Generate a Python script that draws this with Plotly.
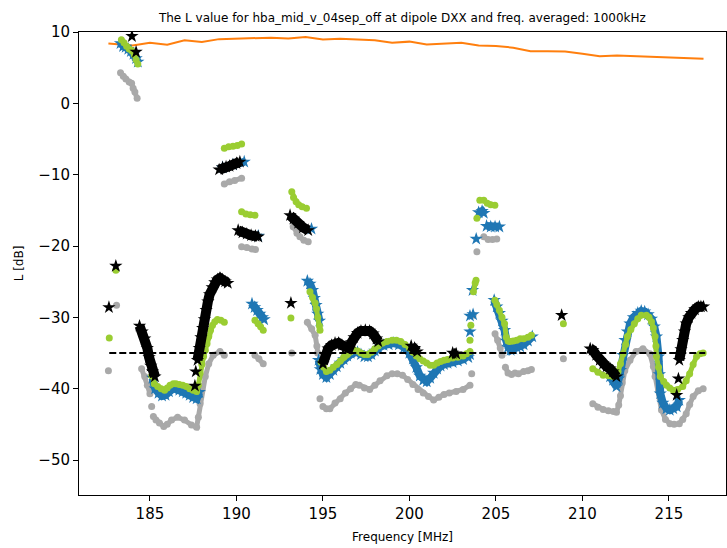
import plotly.graph_objects as go

N = None

# ---- data (frequency MHz, L dB); None separates runs of samples ----
ORANGE_F = [182.6, 184.0, 185.0, 186.0, 187.0, 188.0, 189.0, 190.0, 191.0, 191.5, 192.0, 193.0,
            194.0, 195.0, 196.0, 197.0, 198.0, 199.0, 200.0, 201.0, 202.0, 203.0, 204.0, 205.0,
            206.0, 207.0, 208.0, 209.0, 210.0, 211.0, 212.0, 213.0, 214.0, 215.0, 216.0, 217.0]
ORANGE_L = [8.4, 8.1, 8.5, 8.2, 8.85, 8.6, 9.0, 9.1, 9.15, 9.25, 9.2, 9.1,
            9.3, 8.95, 9.05, 8.95, 8.85, 8.5, 8.65, 8.25, 8.4, 8.5, 8.1, 8.05,
            7.8, 7.3, 7.3, 7.25, 6.95, 6.6, 6.7, 6.6, 6.5, 6.45, 6.35, 6.25]

GRAY_F = [182.6, N, 183.07, N,
          183.3, 183.46, 183.61, 183.8, 183.94, 184.03, 184.13, 184.26, N,
          184.52, 184.7, 184.85, 185.0, N, 185.1, N,
          185.2, 185.35, 185.55, 185.8, 186.0, 186.25, 186.6, 187.0, 187.4, 187.7, 187.8, 187.9,
          188.0, 188.2, 188.4, 188.66, 189.05, 189.3, N,
          189.3, 189.6, 189.9, 190.3, N,
          190.3, 190.6, 190.9, 191.1, N,
          191.07, 191.3, 191.55, N, 193.2, N,
          193.28, 193.5, 193.67, 193.9, 194.15, N,
          194.1, 194.35, 194.55, 194.65, 194.7, N, 194.83, N,
          195.0, 195.2, 195.4, 195.7, 196.0, 196.3, 196.6, 196.9, 197.1, 197.4, 197.7, 198.0,
          198.3, 198.7, 199.0, 199.3, 199.6, 199.9, 200.2, 200.5, 200.8, 201.1, 201.4, 201.7,
          202.0, 202.3, 202.7, 203.1, 203.5, N,
          203.6, N, 203.68, N, 203.9, N,
          204.3, 204.55, 204.8, 205.05, N,
          204.95, 205.1, 205.25, 205.35, N,
          205.55, 205.7, 205.9, 206.1, 206.3, 206.6, 206.85, 207.05, N,
          208.9, N,
          210.6, 210.9, 211.2, 211.5, 211.8, 211.97, 212.1, 212.2, 212.3, 212.45, 212.75, 213.1,
          213.5, 213.9, 214.1, 214.2, 214.4, 214.57, 214.8, 215.06, 215.3, 215.6, 215.8, 216.0,
          216.2, 216.4, 216.7, 216.98]
GRAY_L = [-37.5, N, -28.3, N,
          4.3, 3.8, 3.4, 3.0, 2.8, 2.1, 1.6, 0.7, N,
          -37.2, -38.3, -39.5, -40.7, N, -42.5, N,
          -43.9, -44.4, -44.8, -45.3, -45.0, -44.4, -44.0, -44.4, -45.1, -45.4, -44.0, -42.1,
          -40.2, -38.3, -36.5, -35.3, -34.8, -35.3, N,
          -11.3, -11.0, -10.8, -10.5, N,
          -20.1, -20.2, -20.4, -20.5, N,
          -35.3, -35.8, -36.5, N, -35.0, N,
          -17.3, -18.2, -18.7, -19.2, -19.4, N,
          -30.7, -31.6, -32.5, -34.0, -35.0, N, -41.4, N,
          -42.5, -42.8, -42.8, -42.0, -41.4, -40.6, -40.0, -39.4, -39.5, -39.9, -40.1, -39.5,
          -38.9, -38.2, -37.9, -37.9, -38.1, -38.7, -39.4, -40.1, -40.6, -41.1, -41.6, -41.2,
          -40.8, -40.6, -40.4, -40.1, -39.5, N,
          -37.9, N, -29.7, N, -20.8, N,
          -18.7, -19.1, -19.1, -19.0, N,
          -32.3, -33.2, -34.3, -35.3, N,
          -37.0, -37.8, -38.0, -37.8, -37.9, -37.6, -37.5, -37.3, N,
          -35.8, N,
          -42.1, -42.6, -42.9, -43.1, -43.2, -43.3, -42.3, -41.0, -39.2, -37.5, -36.0, -34.8,
          -34.4, -35.1, -36.9, -38.3, -40.2, -43.0, -44.3, -44.9, -45.0, -44.9, -44.3, -43.5,
          -42.2, -41.1, -40.3, -40.0]

BLUE_F = [183.3, 183.45, 183.6, 183.75, 183.9, 184.05, 184.2, 184.3, N,
          185.15, 185.3, 185.5, 185.7, 185.9, 186.1, 186.3, 186.5, 186.7, 186.9, 187.1, 187.3,
          187.5, 187.7, 187.85, N,
          189.2, 189.8, 190.45, N, 191.26, N,
          190.9, 191.05, 191.2, 191.35, 191.5, 191.6, N,
          194.34, N,
          194.1, 194.25, 194.4, 194.5, 194.6, 194.7, 194.8, N,
          194.75, 194.85, 195.0, 195.2, 195.4, 195.6, 195.8, 196.0, 196.2, 196.4, 196.6, 196.8,
          197.0, 197.2, 197.4, 197.6, 197.8, 198.0, 198.2, 198.5, 198.8, 199.1, 199.4, 199.7,
          200.0, 200.2, 200.4, 200.6, 200.8, 201.0, 201.2, 201.4, 201.6, 201.8, 202.0, 202.2,
          202.5, 202.8, 203.1, 203.4, 203.5, N,
          203.65, N, 203.5, N, 203.5, N, 203.68, N, 203.86, N,
          204.0, 204.2, 204.3, N,
          204.46, 204.7, 204.95, 205.2, N,
          204.9, 205.05, 205.2, 205.35, 205.5, 205.6, 205.7, 205.85, 206.0, 206.2, 206.4, 206.6,
          206.85, 207.1, N,
          211.6, 211.77, 211.97, 212.1, 212.2, 212.35, 212.46, 212.6, 212.75, 212.95, 213.2, 213.4,
          213.6, 213.8, 213.99, 214.15, 214.28, 214.4, 214.45, 214.5, 214.65, 214.86, 215.05,
          215.25, 215.45, 215.6]
BLUE_L = [8.4, 8.0, 7.9, 7.6, 7.3, 6.9, 6.3, 5.8, N,
          -38.5, -40.0, -40.6, -41.0, -40.9, -40.4, -40.0, -40.0, -40.2, -40.4, -40.6, -40.9,
          -41.2, -41.4, -40.5, N,
          -9.0, -8.6, -8.2, N, -18.6, N,
          -28.1, -28.6, -29.0, -29.5, -30.0, -30.3, N,
          -17.6, N,
          -24.9, -25.3, -26.2, -27.3, -28.3, -29.5, -30.5, N,
          -36.0, -37.3, -38.0, -38.4, -38.0, -37.4, -36.9, -36.4, -35.9, -35.4, -35.0, -34.8,
          -34.9, -35.2, -35.5, -35.5, -35.2, -34.7, -34.3, -33.9, -33.8, -33.6, -33.8, -34.2,
          -35.0, -35.8, -37.0, -38.2, -38.8, -39.0, -38.5, -37.8, -37.2, -36.8, -36.6, -36.4,
          -36.3, -36.1, -35.9, -35.6, -35.2, N,
          -26.2, N, -29.8, N, -32.0, N, -29.6, N, -19.0, N,
          -15.3, -15.1, -15.4, N,
          -17.2, -17.3, -17.3, -17.3, N,
          -27.6, -28.5, -29.4, -30.5, -31.8, -33.3, -34.2, -34.6, -34.4, -34.2, -34.1, -33.8,
          -33.3, -32.7, N,
          -38.3, -38.8, -39.7, -38.6, -37.4, -35.3, -33.2, -32.0, -30.9, -30.0, -29.4, -29.1,
          -29.2, -29.6, -30.2, -31.3, -32.7, -35.5, -38.0, -40.7, -42.0, -42.8, -43.0,
          -42.8, -42.5, -41.6]

GREEN_F = [182.65, N, 183.03, N,
           183.35, 183.5, 183.65, 183.8, 183.95, 184.1, 184.2, 184.3, N,
           184.5, 184.65, 184.8, 184.9, 185.0, 185.1, 185.25, 185.45, 185.65, 185.85, 186.0, 186.16,
           186.35, 186.5, 186.7, 186.9, 187.1, 187.3, 187.5, 187.7, 187.8, 187.9, 188.0, 188.1,
           188.2, 188.3, 188.4, 188.5, 188.62, 188.75, 188.9, 189.1, 189.3, N,
           189.3, 189.55, 189.8, 190.05, 190.3, N,
           190.3, 190.55, 190.8, 191.07, N,
           191.07, 191.25, 191.4, 191.55, N,
           193.15, N,
           193.2, 193.3, 193.45, 193.6, 193.8, 194.05, N,
           194.25, 194.4, 194.55, 194.63, 194.7, 194.8, 194.83, N,
           194.9, 195.05, 195.2, 195.4, 195.6, 195.8, 196.0, 196.2, 196.4, 196.6, 196.8, 197.0,
           197.2, 197.4, 197.6, 197.8, 198.0, 198.2, 198.45, 198.7, 199.0, 199.25, 199.5, 199.75,
           200.0, 200.2, 200.4, 200.6, 200.8, 201.0, 201.2, 201.4, 201.6, 201.8, 202.0, 202.2,
           202.5, 202.8, 203.1, 203.3, 203.5, N,
           203.5, N, 203.55, N,
           203.7, 203.8, 203.85, N,
           203.9, N,
           204.07, 204.3, 204.5, 204.7, 204.94, N,
           204.94, 205.05, 205.2, 205.35, 205.5, 205.6, 205.7, 205.8, 206.0, 206.2, 206.4, 206.6,
           206.85, 207.05, N,
           208.9, N,
           210.6, 210.9, 211.2, 211.5, 211.77, 211.95, 212.06, 212.2, 212.35, 212.5, 212.6, 212.8,
           213.0, 213.2, 213.4, 213.7, 213.85, 213.99, 214.1, 214.2, 214.25, 214.28, 214.4, 214.5,
           214.7, 214.86, 215.05, 215.25, 215.5, 215.8, 216.0, 216.2, 216.4, 216.6, 216.8, 216.98]
GREEN_L = [-32.9, N, -23.4, N,
           8.9, 8.5, 8.0, 7.6, 7.4, 6.8, 6.1, 5.5, N,
           -32.3, -33.2, -34.1, -35.3, -36.4, -38.2, -39.3, -39.7, -40.0, -40.2, -39.9, -39.5,
           -39.3, -39.3, -39.4, -39.5, -39.7, -40.0, -40.2, -40.4, -39.5, -37.8, -36.6, -35.5,
           -34.6, -33.7, -32.7, -31.8, -31.1, -30.6, -30.3, -30.4, -30.7, N,
           -6.3, -6.1, -6.0, -5.9, -5.7, N,
           -15.2, -15.5, -15.6, -15.7, N,
           -30.4, -30.9, -31.3, -31.8, N,
           -30.1, N,
           -12.4, -13.2, -13.8, -14.2, -14.5, -14.7, N,
           -26.4, -27.2, -28.0, -28.8, -30.0, -31.2, -31.8, N,
           -36.3, -37.0, -37.6, -37.4, -37.0, -36.6, -36.1, -35.6, -35.2, -34.8, -34.6, -34.7,
           -35.0, -35.2, -35.2, -34.9, -34.4, -34.0, -33.6, -33.4, -33.2, -33.2, -33.4, -33.8,
           -34.3, -34.9, -35.4, -35.8, -36.1, -36.4, -36.7, -36.7, -36.4, -36.2, -36.0, -35.9,
           -35.7, -35.6, -35.4, -35.1, -34.8, N,
           -33.2, N, -31.1, N,
           -26.4, -25.2, -24.8, N,
           -16.1, N,
           -13.6, -13.6, -14.0, -14.2, -14.3, N,
           -27.6, -28.2, -29.0, -30.0, -30.9, -32.8, -33.3, -33.4, -33.3, -33.2, -33.0, -33.0,
           -32.8, -32.5, N,
           -30.9, N,
           -37.2, -37.7, -38.1, -38.2, -38.3, -38.1, -37.6, -36.5, -35.1, -33.8, -32.7, -31.7,
           -30.9, -30.2, -29.7, -29.7, -30.0, -30.6, -31.5, -32.7, -34.0, -35.5, -37.0, -38.3,
           -39.0, -39.5, -39.9, -40.2, -40.1, -39.7, -38.9, -37.9, -36.6, -35.5, -35.1, -35.0]

BLACK_F = [182.63, N, 183.03, N, 183.96, N, 184.2, N,
           184.4, 184.55, 184.7, 184.85, 184.95, 185.05, 185.15, 185.29, N,
           187.6, N, 187.65, N,
           187.75, 187.85, 187.95, 188.05, 188.15, 188.25, 188.35, 188.45, 188.6, 188.75, 188.9,
           189.05, 189.2, 189.35, 189.5, N,
           189.0, 189.2, 189.4, 189.6, 189.8, 190.0, 190.2, N,
           190.1, 190.35, 190.6, 190.85, 191.1, 191.26, N,
           193.1, 193.3, 193.57, 193.85, 194.15, N,
           193.15, N,
           195.0, 195.15, 195.3, 195.5, 195.7, 195.9, 196.1, 196.3, 196.5, 196.65, 196.8, 197.0,
           197.2, 197.45, 197.7, 197.9, 198.1, 198.2, N,
           200.1, 200.3, 200.45, N,
           202.5, 202.7, N,
           208.8, N,
           210.45, 210.6, 210.8, 211.0, 211.2, 211.4, 211.6, 211.77, 211.97, N,
           215.45, N, 215.55, N,
           215.6, 215.7, 215.8, 215.9, 216.0, 216.15, 216.3, 216.5, 216.7, 216.85, 217.0]
BLACK_L = [-28.6, N, -22.8, N, 9.4, N, 7.2, N,
           -31.2, -32.0, -33.0, -34.3, -35.6, -36.8, -37.6, -38.3, N,
           -39.6, N, -37.6, N,
           -36.0, -34.3, -32.8, -31.5, -30.3, -29.0, -27.8, -26.8, -25.8, -25.1, -24.7,
           -24.5, -24.7, -25.0, -25.2, N,
           -9.3, -9.0, -8.9, -8.8, -8.6, -8.4, -8.2, N,
           -17.8, -18.1, -18.3, -18.5, -18.6, -18.7, N,
           -15.7, -16.2, -16.8, -17.4, -17.8, N,
           -28.0, N,
           -36.5, -35.2, -34.4, -33.9, -33.6, -33.6, -33.9, -34.3, -34.3, -33.5, -32.8, -32.2,
           -31.9, -31.8, -31.9, -32.3, -33.0, -33.4, N,
           -34.0, -34.3, -34.8, N,
           -35.0, -35.1, N,
           -29.7, N,
           -34.4, -34.6, -35.3, -36.0, -36.5, -36.9, -37.2, -37.6, -38.3, N,
           -40.9, N, -38.6, N,
           -36.0, -34.5, -33.2, -32.0, -30.9, -30.0, -29.4, -28.9, -28.5, -28.5, -28.5]

THRESH_F = [182.65, 217.1]
THRESH_L = [-35, -35]

TITLE = "The L value for hba_mid_v_04sep_off at dipole DXX and freq. averaged: 1000kHz"
X_TICKS = [185, 190, 195, 200, 205, 210, 215]
Y_TICKS = [-50, -40, -30, -20, -10, 0, 10]

FONT = "DejaVu Sans"

fig = go.Figure()
fig.add_trace(go.Scatter(x=ORANGE_F, y=ORANGE_L, mode="lines",
                         line=dict(color="#ff7f0e", width=2)))
fig.add_trace(go.Scatter(x=GRAY_F, y=GRAY_L, mode="lines+markers", connectgaps=False,
                         line=dict(color="#a9a9a9", width=5),
                         marker=dict(symbol="circle", size=7, color="#a9a9a9")))
fig.add_trace(go.Scatter(x=BLUE_F, y=BLUE_L, mode="lines+markers", connectgaps=False,
                         line=dict(color="#1f77b4", width=8),
                         marker=dict(symbol="star", size=10, color="#1f77b4")))
fig.add_trace(go.Scatter(x=GREEN_F, y=GREEN_L, mode="lines+markers", connectgaps=False,
                         line=dict(color="#9acd32", width=5),
                         marker=dict(symbol="circle", size=7, color="#9acd32")))
fig.add_trace(go.Scatter(x=BLACK_F, y=BLACK_L, mode="lines+markers", connectgaps=False,
                         line=dict(color="black", width=10),
                         marker=dict(symbol="star", size=10, color="black")))
fig.add_trace(go.Scatter(x=THRESH_F, y=THRESH_L, mode="lines",
                         line=dict(color="black", width=2, dash="7px,3px")))

axis_common = dict(showline=True, linecolor="black", linewidth=1, mirror=True,
                   ticks="outside", ticklen=5, tickwidth=1, tickcolor="black",
                   showgrid=False, zeroline=False,
                   tickfont=dict(family=FONT, size=15, color="black"))

fig.update_layout(
    width=727, height=548,
    margin=dict(l=79, r=1, t=32, b=53),
    paper_bgcolor="white", plot_bgcolor="white",
    showlegend=False,
    font=dict(family=FONT, color="black"),
    title=dict(text=TITLE, x=0.5535, xanchor="center", y=0.968, yanchor="middle",
               font=dict(family=FONT, size=12, color="black")),
    xaxis=dict(range=[180.9, 218.3], tickvals=X_TICKS,
               title=dict(text="Frequency [MHz]", font=dict(family=FONT, size=12), standoff=10),
               **axis_common),
    yaxis=dict(range=[-54.9, 10.0], tickvals=Y_TICKS,
               title=dict(text="L [dB]", font=dict(family=FONT, size=12), standoff=12),
               **axis_common),
)

fig.write_html("out.html")
